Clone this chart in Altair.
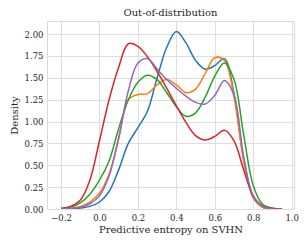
import altair as alt
import pandas as pd

x_grid = [-0.20, -0.15, -0.10, -0.05, 0.00, 0.05, 0.10, 0.15, 0.20, 0.25, 0.30, 0.35,
          0.40, 0.45, 0.50, 0.55, 0.60, 0.65, 0.70, 0.75, 0.80, 0.85, 0.90, 0.95]

blue = [0.00, 0.00, 0.01, 0.03, 0.08, 0.20, 0.45, 0.75, 0.93, 1.12, 1.50, 1.85,
        2.03, 1.90, 1.70, 1.60, 1.64, 1.72, 1.32, 0.58, 0.13, 0.02, 0.00, 0.00]
orange = [0.00, 0.01, 0.03, 0.08, 0.18, 0.40, 0.80, 1.25, 1.31, 1.32, 1.42, 1.48,
          1.42, 1.33, 1.37, 1.55, 1.73, 1.70, 1.28, 0.55, 0.13, 0.02, 0.00, 0.00]
green = [0.00, 0.02, 0.07, 0.17, 0.33, 0.55, 0.92, 1.25, 1.45, 1.53, 1.48, 1.33,
         1.17, 1.06, 1.10, 1.28, 1.52, 1.67, 1.48, 0.85, 0.27, 0.05, 0.01, 0.00]
red = [0.01, 0.03, 0.10, 0.33, 0.78, 1.25, 1.62, 1.89, 1.86, 1.74, 1.57, 1.38,
       1.18, 0.99, 0.84, 0.79, 0.83, 0.90, 0.78, 0.45, 0.15, 0.03, 0.01, 0.00]
purple = [0.00, 0.01, 0.02, 0.06, 0.15, 0.38, 0.82, 1.35, 1.67, 1.72, 1.60, 1.48,
          1.38, 1.29, 1.22, 1.20, 1.30, 1.47, 1.30, 0.60, 0.15, 0.03, 0.00, 0.00]

series_names = ["blue", "orange", "green", "red", "purple"]
series_vals = [blue, orange, green, red, purple]
series_colors = ["#1f77b4", "#ff7f0e", "#2ca02c", "#d62728", "#9467bd"]

x_ticks = [-0.2, 0.0, 0.2, 0.4, 0.6, 0.8, 1.0]
y_ticks = [0.0, 0.25, 0.5, 0.75, 1.0, 1.25, 1.5, 1.75, 2.0]

rows = []
for name, vals in zip(series_names, series_vals):
    for xv, yv in zip(x_grid, vals):
        rows.append({"x": xv, "y": yv, "s": name})
df = pd.DataFrame(rows)

FONT = "DejaVu Serif"

chart = alt.Chart(df).mark_line(strokeWidth=1.5, interpolate="catmull-rom", clip=True).encode(
    x=alt.X("x:Q", scale=alt.Scale(domain=[-0.273, 1.012], nice=False, zero=False),
            axis=alt.Axis(values=x_ticks, format=".1f", title="Predictive entropy on SVHN")),
    y=alt.Y("y:Q", scale=alt.Scale(domain=[0, 2.15], nice=False),
            axis=alt.Axis(values=y_ticks, format=".2f", title="Density")),
    color=alt.Color("s:N", scale=alt.Scale(domain=series_names, range=series_colors), legend=None),
    detail="s:N",
).properties(
    width=247, height=188,
    title=alt.TitleParams("Out-of-distribution", font=FONT, fontSize=10, fontWeight="normal",
                          color="#262626", offset=3),
    autosize=alt.AutoSizeParams(type="none"),
    padding={"left": 39, "top": 13, "right": 5, "bottom": 30},
).configure_view(
    stroke="#d9d9d9", strokeWidth=1
).configure_axis(
    labelFont=FONT, labelFontSize=8.5, labelColor="#262626",
    titleFont=FONT, titleFontSize=10, titleColor="#262626", titleFontWeight="normal",
    grid=True, gridColor="#dedede", gridWidth=1,
    domain=False, ticks=False, labelPadding=4,
).configure_axisY(
    titlePadding=5
).configure_axisX(
    titlePadding=3
)

chart.save("out.html", embed_options={"renderer": "svg", "actions": False})
